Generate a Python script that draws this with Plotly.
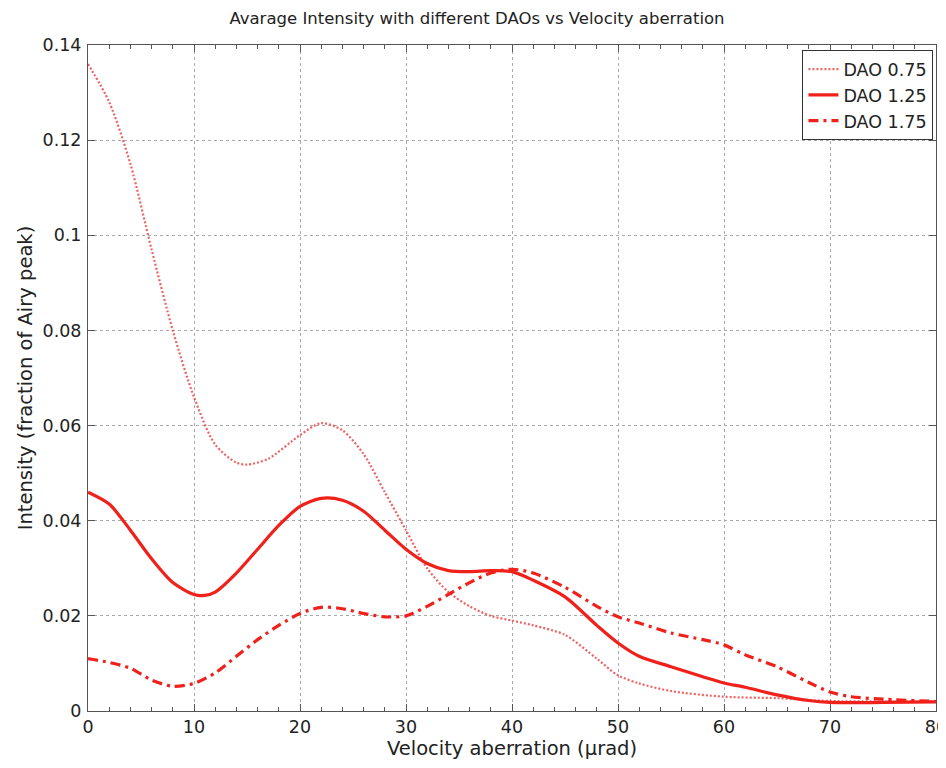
import plotly.graph_objects as go

x075 = [0, 2, 4, 6, 8, 10, 12, 14, 15, 17, 20, 22, 24, 26, 28, 30, 32, 34, 36, 38, 40, 42, 45, 48, 50, 52, 55, 60, 65, 70, 75, 80]
y075 = [0.136, 0.128, 0.115, 0.097, 0.080, 0.066, 0.056, 0.0522, 0.0518, 0.053, 0.058, 0.0605, 0.059, 0.054, 0.046, 0.038, 0.030, 0.025, 0.022, 0.020, 0.019, 0.018, 0.016, 0.011, 0.0075, 0.0058, 0.0042, 0.003, 0.0027, 0.0021, 0.002, 0.002]

x125 = [0, 2, 4, 6, 8, 10, 11, 12, 14, 16, 18, 20, 22, 24, 26, 28, 30, 32, 34, 36, 38, 40, 42, 45, 48, 50, 52, 55, 58, 60, 62, 65, 68, 70, 75, 80]
y125 = [0.046, 0.0435, 0.038, 0.032, 0.027, 0.0245, 0.0243, 0.025, 0.029, 0.034, 0.039, 0.043, 0.0447, 0.0443, 0.042, 0.038, 0.034, 0.031, 0.0295, 0.0293, 0.0295, 0.0293, 0.0275, 0.024, 0.018, 0.0143, 0.0115, 0.0093, 0.0072, 0.0059, 0.005, 0.0034, 0.0022, 0.0018, 0.0018, 0.0019]

x175 = [0, 2, 4, 6, 8, 10, 12, 14, 16, 18, 20, 22, 24, 26, 28, 30, 32, 34, 36, 38, 40, 42, 45, 48, 50, 52, 55, 58, 60, 62, 65, 68, 70, 72, 75, 80]
y175 = [0.011, 0.0102, 0.009, 0.0065, 0.0052, 0.0058, 0.008, 0.0115, 0.015, 0.018, 0.0205, 0.0218, 0.0215, 0.0205, 0.0198, 0.020, 0.022, 0.0245, 0.027, 0.029, 0.0298, 0.029, 0.026, 0.022, 0.0198, 0.0185, 0.0164, 0.015, 0.0139, 0.0118, 0.0093, 0.006, 0.004, 0.003, 0.0025, 0.002]

xticks = [0, 10, 20, 30, 40, 50, 60, 70, 80]
yticks = [0, 0.02, 0.04, 0.06, 0.08, 0.1, 0.12, 0.14]
yticktext = ["0", "0.02", "0.04", "0.06", "0.08", "0.1", "0.12", "0.14"]

fig = go.Figure()
fig.add_trace(go.Scatter(x=x075, y=y075, mode="lines", name="DAO 0.75", line=dict(shape="spline", smoothing=0.8, color="rgba(235,70,70,0.85)", width=2.2, dash="2px,2px")))
fig.add_trace(go.Scatter(x=x125, y=y125, mode="lines", name="DAO 1.25", line=dict(shape="spline", smoothing=0.8, color="#f0201a", width=3.2)))
fig.add_trace(go.Scatter(x=x175, y=y175, mode="lines", name="DAO 1.75", line=dict(shape="spline", smoothing=0.8, color="#f0201a", width=3.2, dash="10px,5px,3px,5px")))

font = "DejaVu Sans, Liberation Sans, Arial, sans-serif"
fig.update_layout(
    width=938, height=752,
    margin=dict(l=80, r=10, t=37, b=49),
    paper_bgcolor="white", plot_bgcolor="white",
    font=dict(family=font, size=17, color="#222"),
    title=dict(text="Avarage Intensity with different DAOs vs Velocity aberration", x=0.5, xanchor="center", y=0.987, yanchor="middle", font=dict(size=16.5)),
    showlegend=True,
    legend=dict(x=0.997, y=0.992, xanchor="right", yanchor="top", bordercolor="#333", borderwidth=1, bgcolor="white", font=dict(size=17.5), tracegroupgap=0),
)
fig.update_xaxes(range=[0, 80], tickvals=xticks, showline=True, linecolor="#555", linewidth=1, mirror="ticks",
                 ticks="inside", ticklen=7, tickcolor="#555", ticklabeloverflow="allow", automargin=False,
                 minor=dict(dtick=2, ticks="inside", ticklen=4, tickcolor="#555", showgrid=False),
                 showgrid=True, gridcolor="#aaa", griddash="dot", gridwidth=1, zeroline=False,
                 title=dict(text="Velocity aberration (µrad)", standoff=6, font=dict(size=19.5)), tickfont=dict(size=17.5))
fig.update_yaxes(range=[0, 0.14], tickvals=yticks, ticktext=yticktext, showline=True, linecolor="#555", linewidth=1, mirror="ticks",
                 ticks="inside", ticklen=7, tickcolor="#555", ticklabelstandoff=2, automargin=False,
                 showgrid=True, gridcolor="#aaa", griddash="dot", gridwidth=1, zeroline=False,
                 title=dict(text="Intensity (fraction of Airy peak)", standoff=4, font=dict(size=19.5)), tickfont=dict(size=17.5))

fig.write_html("out.html")
